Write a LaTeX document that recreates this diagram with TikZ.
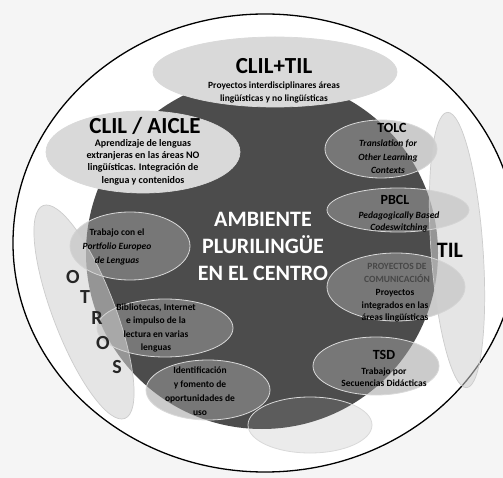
\documentclass[tikz,border=0pt]{standalone}
\usepackage{fontspec}
\setmainfont{Carlito}
\usepackage{tikz}
\usetikzlibrary{%
  positioning
 ,shapes
}
\tikzstyle{pale}=[ellipse,draw=white!85!black,fill=black!15,inner sep=0pt,line width=0.7pt]
\tikzstyle{bub}=[ellipse,draw=white!85!black,fill=black!38,fill opacity=0.53,inner sep=0pt,line width=0.8pt]
\tikzstyle{side}=[ellipse,draw=white!80!black,fill=black!18,fill opacity=0.55,inner sep=0pt,line width=0.7pt]
\tikzstyle{ttl}=[inner sep=0pt,font=\bfseries\fontsize{23}{26}\selectfont]
\tikzstyle{hd}=[inner sep=0pt,font=\bfseries\fontsize{14}{16}\selectfont]
\tikzstyle{sml}=[inner sep=0pt,align=center,font=\bfseries\fontsize{9.5}{12.5}\selectfont]
\tikzstyle{lt}=[inner sep=0pt,text=black!85,font=\bfseries\fontsize{20}{22}\selectfont]

\begin{document}
\begin{tikzpicture}[x=1pt,y=-1pt]
  \useasboundingbox (0,0) rectangle (503,478);
  \fill[black!4] (0,0) rectangle (503,478);
  \node[ellipse,draw=black,fill=white,line width=1.3pt,minimum width=504pt,minimum height=458pt,inner sep=0pt] (rim) at (265,243) {};
  \node[circle,fill=black!70,minimum size=352pt,inner sep=0pt] (core) at (262,253) {};
  % bubbles
  \node[pale,minimum width=244pt,minimum height=70pt] (e_ct) at (275,72) {};
  \node[pale,minimum width=194pt,minimum height=82pt] (e_ca) at (143,152) {};
  \node[bub,minimum width=112pt,minimum height=58pt] (e_tolc) at (381,149) {};
  \node[bub,minimum width=142pt,minimum height=44pt] (e_pbcl) at (398,210) {};
  \node[bub,minimum width=138pt,minimum height=68pt] (e_proy) at (396,287) {};
  \node[bub,minimum width=126pt,minimum height=58pt] (e_tsd) at (376,366) {};
  \node[bub,fill opacity=0.2,minimum width=124pt,minimum height=56pt] (e_void) at (310,425) {};
  \node[bub,minimum width=120pt,minimum height=68pt] (e_port) at (130,246) {};
  \node[bub,minimum width=136pt,minimum height=58pt] (e_bib) at (165,328) {};
  \node[bub,minimum width=124pt,minimum height=60pt] (e_ident) at (208,390) {};
  \node[side,rotate=21,minimum width=62pt,minimum height=228pt] (e_otros) at (84,312) {};
  \node[side,rotate=4,minimum width=52pt,minimum height=276pt] (e_til) at (457,250) {};
  % texts
  \node[ttl] (t_ct) at (274,66) {CLIL+TIL};
  \node[sml,font=\bfseries\fontsize{9.5}{13}\selectfont] (t_ct2) at (274,92) {Proyectos interdisciplinares áreas\\lingüísticas y no lingüísticas};
  \node[ttl] (t_ca) at (145,126) {CLIL / AICLE};
  \node[sml,font=\bfseries\fontsize{10}{12.3}\selectfont] (t_ca2) at (143,162) {Aprendizaje de lenguas\\extranjeras en las áreas NO\\lingüísticas. Integración de\\lengua y contenidos};
  \node[hd] (t_tolc) at (392,128) {TOLC};
  \node[sml,font=\bfseries\itshape\fontsize{9.5}{13.5}\selectfont] (t_tolc2) at (388,157) {Translation for\\Other Learning\\Contexts};
  \node[hd] (t_pbcl) at (395,200) {PBCL};
  \node[sml,font=\bfseries\itshape\fontsize{9.5}{11.5}\selectfont] (t_pbcl2) at (399,222) {Pedagogically Based\\Codeswitching};
  \node[sml,text=black!72] (t_proy) at (397,273) {PROYECTOS DE\\COMUNICACIÓN};
  \node[sml] (t_proy2) at (395,306) {Proyectos\\integrados en las\\áreas lingüísticas};
  \node[hd] (t_tsd) at (384,355) {TSD};
  \node[sml,font=\bfseries\fontsize{9.5}{11.5}\selectfont] (t_tsd2) at (384,377) {Trabajo por\\Secuencias Didácticas};
  \node[sml,font=\bfseries\fontsize{9.5}{14}\selectfont] (t_port) at (117,247) {Trabajo con el\\\textit{Portfolio Europeo}\\\textit{de Lenguas}};
  \node[sml,font=\bfseries\fontsize{9.5}{13.5}\selectfont] (t_bib) at (156,328) {Bibliotecas, Internet\\e impulso de la\\lectura en varias\\lenguas};
  \node[sml,font=\bfseries\fontsize{9.5}{14}\selectfont] (t_ident) at (200,391) {Identificación\\y fomento de\\oportunidades de\\uso};
  \node[inner sep=0pt,font=\bfseries\fontsize{22}{24}\selectfont] (t_til) at (450,250) {TIL};
  \node[inner sep=0pt,align=center,text=white,font=\bfseries\fontsize{22}{27}\selectfont] (t_core) at (263,246) {AMBIENTE\\PLURILINGÜE\\EN EL CENTRO};
  \foreach \l/\x/\y [count=\i] in {O/73/277,T/85/297,R/97/318,O/103/343,S/117/367}
    \node[lt] (o_\i) at (\x,\y) {\l};
\end{tikzpicture}
\end{document}
